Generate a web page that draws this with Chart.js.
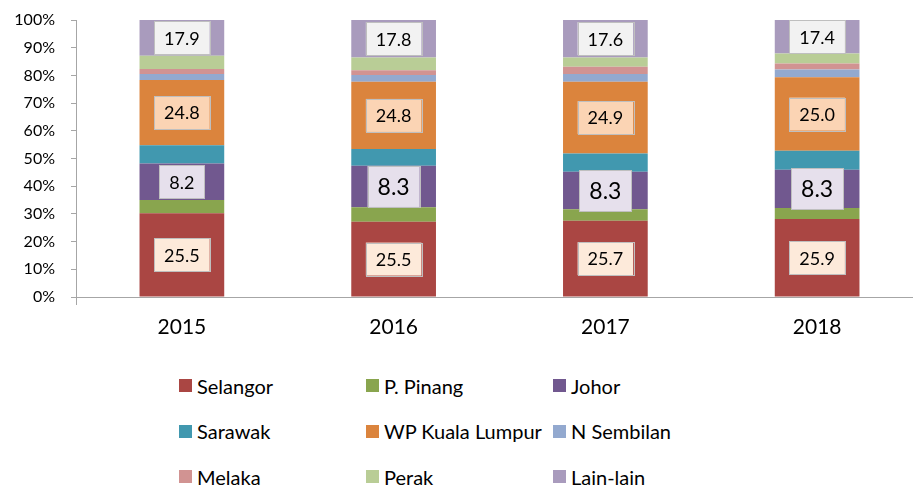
<!DOCTYPE html>
<html>
<head>
<meta charset="utf-8">
<script src="https://cdn.jsdelivr.net/npm/chart.js@4/dist/chart.umd.min.js"></script>
<style>
  html, body { margin: 0; padding: 0; background: #fff; overflow: hidden; width: 913px; height: 486px; }
  #wrap { position: absolute; left: 0; top: 0; width: 923px; height: 360px; }
  #legend { position: absolute; left: 179px; top: 363px; display: grid;
            grid-template-columns: 187px 187px 187px; grid-auto-rows: 45.5px;
            font-family: Lato, sans-serif; font-size: 20px; color: #000; }
  #legend div { display: flex; align-items: center; white-space: nowrap; }
  #legend span { display: inline-block; width: 13px; height: 13px; margin-right: 5px; }
</style>
</head>
<body>
<div id="wrap"><canvas id="shareChart"></canvas></div>
<div id="legend"></div>
<script>
const years = ['2015', '2016', '2017', '2018'];

// segment shares (percent of bar height)
const selangor   = [30.2, 27.2, 27.5, 28.2];
const pPinang    = [4.8, 5.2, 4.2, 3.9];
const johor      = [13.2, 15.0, 13.5, 13.8];
const sarawak    = [6.6, 6.0, 6.6, 6.9];
const kualaLumpur = [23.5, 24.3, 25.9, 26.5];
const nSembilan  = [2.2, 2.4, 2.8, 2.8];
const melaka     = [1.8, 1.8, 2.6, 2.2];
const perak      = [4.8, 4.6, 3.4, 3.6];
const lainLain   = [12.9, 13.5, 13.5, 12.1];

// the numbers typed in the boxes
const selangorLabels = ['25.5', '25.5', '25.7', '25.9'];
const johorLabels    = ['8.2', '8.3', '8.3', '8.3'];
const klLabels       = ['24.8', '24.8', '24.9', '25.0'];
const lainLabels     = ['17.9', '17.8', '17.6', '17.4'];

const yTicks = [0, 10, 20, 30, 40, 50, 60, 70, 80, 90, 100];

const series = [
    { label: 'Selangor', data: selangor, color: '#AA4643', box: { text: selangorLabels, fill: '#FDEADA', sizes: [18, 18, 18, 18] } },
    { label: 'P. Pinang', data: pPinang, color: '#89A54E' },
    { label: 'Johor', data: johor, color: '#71588F', box: { text: johorLabels, fill: '#E6E0EC', sizes: [18, 23, 23, 23] } },
    { label: 'Sarawak', data: sarawak, color: '#4198AF' },
    { label: 'WP Kuala Lumpur', data: kualaLumpur, color: '#DB843D', box: { text: klLabels, fill: '#FBD4B4', sizes: [18, 18, 18, 18] } },
    { label: 'N Sembilan', data: nSembilan, color: '#93A9CF' },
    { label: 'Melaka', data: melaka, color: '#D19392' },
    { label: 'Perak', data: perak, color: '#B9CD96' },
    { label: 'Lain-lain', data: lainLain, color: '#A99BBD', box: { text: lainLabels, fill: '#F2F2F2', sizes: [18, 18, 18, 18] } },
];

// boxed value labels in the middle of the segments
const boxLabels = {
    id: 'boxLabels',
    afterDatasetsDraw(chart) {
        const ctx = chart.ctx;
        chart.data.datasets.forEach((ds, di) => {
            const box = series[di].box;
            if (!box) return;
            chart.getDatasetMeta(di).data.forEach((bar, i) => {
                const size = box.sizes[i];
                ctx.save();
                ctx.font = size + 'px Lato';
                const w = ctx.measureText(box.text[i]).width + 20;
                const h = size + (size > 20 ? 18 : 15);
                const cx = bar.x;
                const cy = (bar.y + bar.base) / 2;
                ctx.fillStyle = box.fill;
                ctx.fillRect(cx - w / 2, cy - h / 2, w, h);
                ctx.strokeStyle = '#BFBFBF';
                ctx.lineWidth = 1;
                ctx.strokeRect(Math.round(cx - w / 2) + 0.5, Math.round(cy - h / 2) + 0.5, Math.round(w), Math.round(h));
                ctx.fillStyle = '#000';
                ctx.textAlign = 'center';
                ctx.textBaseline = 'middle';
                ctx.fillText(box.text[i], cx, cy + 1);
                ctx.restore();
            });
        });
    }
};

const chart = new Chart(document.getElementById('shareChart'), {
    type: 'bar',
    data: {
        labels: years,
        datasets: series.map(s => ({
            label: s.label,
            data: s.data,
            backgroundColor: s.color,
            borderWidth: 0,
            barPercentage: 0.4,
            categoryPercentage: 1.0,
        })),
    },
    options: {
        responsive: true,
        maintainAspectRatio: false,
        animation: false,
        layout: { padding: { top: 20, left: 0, right: 0, bottom: 0 } },
        plugins: {
            legend: { display: false },
            tooltip: { enabled: false },
        },
        scales: {
            x: {
                stacked: true,
                afterFit: (scale) => { scale.height = 63; scale.paddingLeft = 0; scale.paddingRight = 0; },
                border: { color: '#A6A6A6', width: 1 },
                grid: {
                    drawOnChartArea: false,
                    tickLength: 8,
                    color: (c) => c.index === 0 ? '#A6A6A6' : 'rgba(0,0,0,0)',
                },
                ticks: { color: '#000', font: { family: 'Lato', size: 21 }, padding: 10 },
            },
            y: {
                stacked: true,
                min: 0,
                max: 100,
                afterFit: (scale) => { scale.width = 76; scale.paddingTop = 0; scale.paddingBottom = 0; },
                afterBuildTicks: (scale) => { scale.ticks = yTicks.map(v => ({ value: v })); },
                border: { color: '#A6A6A6', width: 1 },
                grid: { drawOnChartArea: false, tickLength: 5, color: '#A6A6A6' },
                ticks: {
                    color: '#000',
                    font: { family: 'Lato', size: 16 },
                    padding: 16,
                    callback: (v) => v + '%',
                },
            },
        },
    },
    plugins: [boxLabels],
});

// legend laid out in three columns like the original
const legendEl = document.getElementById('legend');
chart.data.datasets.forEach(ds => {
    const item = document.createElement('div');
    const sw = document.createElement('span');
    sw.style.background = ds.backgroundColor;
    item.appendChild(sw);
    item.appendChild(document.createTextNode(ds.label));
    legendEl.appendChild(item);
});
</script>
</body>
</html>
